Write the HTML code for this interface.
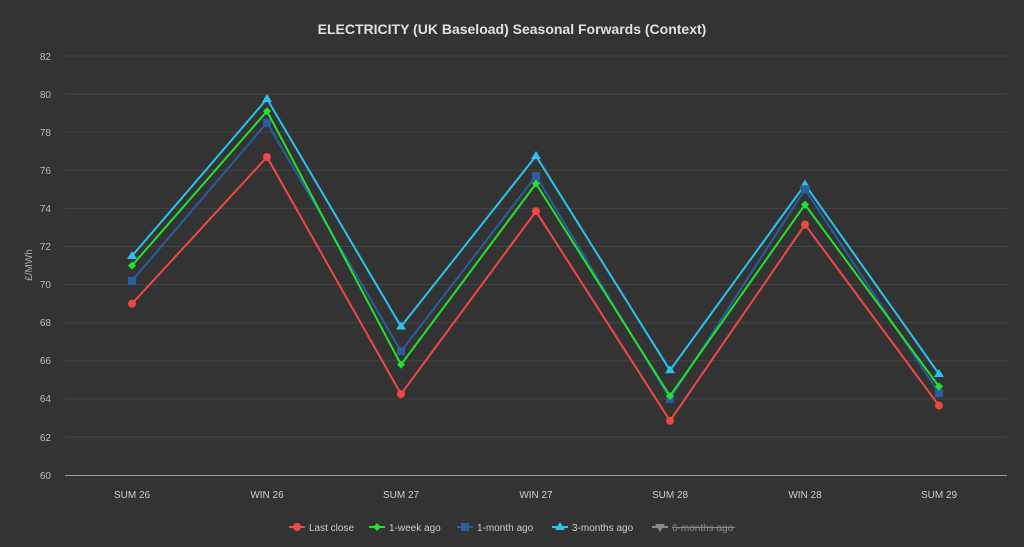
<!DOCTYPE html>
<html><head><meta charset="utf-8"><style>
html,body{margin:0;padding:0;background:#333333;}
svg{display:block;font-family:"Liberation Sans",sans-serif;}
</style></head><body>
<svg width="1024" height="547" viewBox="0 0 1024 547">
<rect width="1024" height="547" fill="#333333"/>
<text x="512" y="34" text-anchor="middle" fill="#e0e0e0" font-size="14" font-weight="bold">ELECTRICITY (UK Baseload) Seasonal Forwards (Context)</text>
<g stroke="#454545" stroke-width="1">
<line x1="65" x2="1007" y1="56" y2="56"/><line x1="65" x2="1007" y1="94.1" y2="94.1"/>
<line x1="65" x2="1007" y1="132.2" y2="132.2"/><line x1="65" x2="1007" y1="170.3" y2="170.3"/>
<line x1="65" x2="1007" y1="208.4" y2="208.4"/><line x1="65" x2="1007" y1="246.5" y2="246.5"/>
<line x1="65" x2="1007" y1="284.6" y2="284.6"/><line x1="65" x2="1007" y1="322.7" y2="322.7"/>
<line x1="65" x2="1007" y1="360.8" y2="360.8"/><line x1="65" x2="1007" y1="398.9" y2="398.9"/>
<line x1="65" x2="1007" y1="437" y2="437"/>
</g>
<line x1="65" x2="1007" y1="475.5" y2="475.5" stroke="#a0a0a0" stroke-width="1"/>
<g fill="#bbbbbb" font-size="10" text-anchor="end">
<text x="51" y="60">82</text><text x="51" y="98">80</text><text x="51" y="136">78</text>
<text x="51" y="174">76</text><text x="51" y="212">74</text><text x="51" y="250">72</text>
<text x="51" y="288">70</text><text x="51" y="326">68</text><text x="51" y="364">66</text>
<text x="51" y="402">64</text><text x="51" y="441">62</text><text x="51" y="479">60</text>
</g>
<text transform="translate(32,265) rotate(-90)" text-anchor="middle" fill="#aaaaaa" font-size="10">£/MWh</text>
<g fill="#cccccc" font-size="10" text-anchor="middle">
<text x="132" y="498">SUM 26</text><text x="267" y="498">WIN 26</text><text x="401" y="498">SUM 27</text>
<text x="536" y="498">WIN 27</text><text x="670" y="498">SUM 28</text><text x="805" y="498">WIN 28</text>
<text x="939" y="498">SUM 29</text>
</g>
<!-- 3-months -->
<polyline fill="none" stroke="#29c3ef" stroke-width="2" points="132,256 267,98.9 401,326.5 536,156 670,370.3 805,184.6 939,374"/>
<g fill="#29c3ef">
<path d="M132,251 l5,8 h-10z"/><path d="M267,94 l5,8 h-10z"/><path d="M401,321.5 l5,8 h-10z"/><path d="M536,151 l5,8 h-10z"/><path d="M670,365.3 l5,8 h-10z"/><path d="M805,179.6 l5,8 h-10z"/><path d="M939,369 l5,8 h-10z"/>
</g>
<!-- 1-month -->
<polyline fill="none" stroke="#2a5d9f" stroke-width="2" points="132,280.8 267,122.7 401,351.3 536,176 670,398.9 805,189.4 939,393.2"/>
<g fill="#2a5d9f">
<rect x="128" y="276.8" width="8" height="8"/><rect x="263" y="118.7" width="8" height="8"/><rect x="397" y="347.3" width="8" height="8"/><rect x="532" y="172" width="8" height="8"/><rect x="666" y="394.9" width="8" height="8"/><rect x="801" y="185.4" width="8" height="8"/><rect x="935" y="389.2" width="8" height="8"/>
</g>
<!-- 1-week -->
<polyline fill="none" stroke="#22e22a" stroke-width="2" points="132,265.6 267,111.2 401,364.6 536,183.6 670,396 805,204.6 939,386.5"/>
<g fill="#22e22a">
<path d="M132,261.6 l4,4 -4,4 -4,-4z"/><path d="M267,107.2 l4,4 -4,4 -4,-4z"/><path d="M401,360.6 l4,4 -4,4 -4,-4z"/><path d="M536,179.6 l4,4 -4,4 -4,-4z"/><path d="M670,392 l4,4 -4,4 -4,-4z"/><path d="M805,200.6 l4,4 -4,4 -4,-4z"/><path d="M939,382.5 l4,4 -4,4 -4,-4z"/>
</g>
<!-- Last close -->
<polyline fill="none" stroke="#f04747" stroke-width="2" points="132,303.7 267,157 401,394.1 536,211.3 670,420.8 805,224.6 939,405.6"/>
<g fill="#f04747">
<circle cx="132" cy="303.7" r="4"/><circle cx="267" cy="157" r="4"/><circle cx="401" cy="394.1" r="4"/><circle cx="536" cy="211.3" r="4"/><circle cx="670" cy="420.8" r="4"/><circle cx="805" cy="224.6" r="4"/><circle cx="939" cy="405.6" r="4"/>
</g>
<!-- legend -->
<g font-size="10" fill="#cccccc">
<line x1="289" x2="305" y1="527" y2="527" stroke="#f04747" stroke-width="2"/><circle cx="297" cy="527" r="4" fill="#f04747"/>
<text x="309" y="531">Last close</text>
<line x1="369" x2="385" y1="527" y2="527" stroke="#22e22a" stroke-width="2"/><path d="M377,523 l4,4 -4,4 -4,-4z" fill="#22e22a"/>
<text x="389" y="531">1-week ago</text>
<line x1="457" x2="473" y1="527" y2="527" stroke="#2a5d9f" stroke-width="2"/><rect x="461" y="523" width="8" height="8" fill="#2a5d9f"/>
<text x="477" y="531">1-month ago</text>
<line x1="552" x2="568" y1="527" y2="527" stroke="#29c3ef" stroke-width="2"/><path d="M560,522 l5,8 h-10z" fill="#29c3ef"/>
<text x="572" y="531">3-months ago</text>
<line x1="652" x2="668" y1="527" y2="527" stroke="#888" stroke-width="2"/><path d="M660,532 l5,-8 h-10z" fill="#888"/>
<text x="672" y="531" fill="#888">6-months ago</text>
<line x1="672" x2="735" y1="527.5" y2="527.5" stroke="#888" stroke-width="1"/>
</g>
</svg>
</body></html>
